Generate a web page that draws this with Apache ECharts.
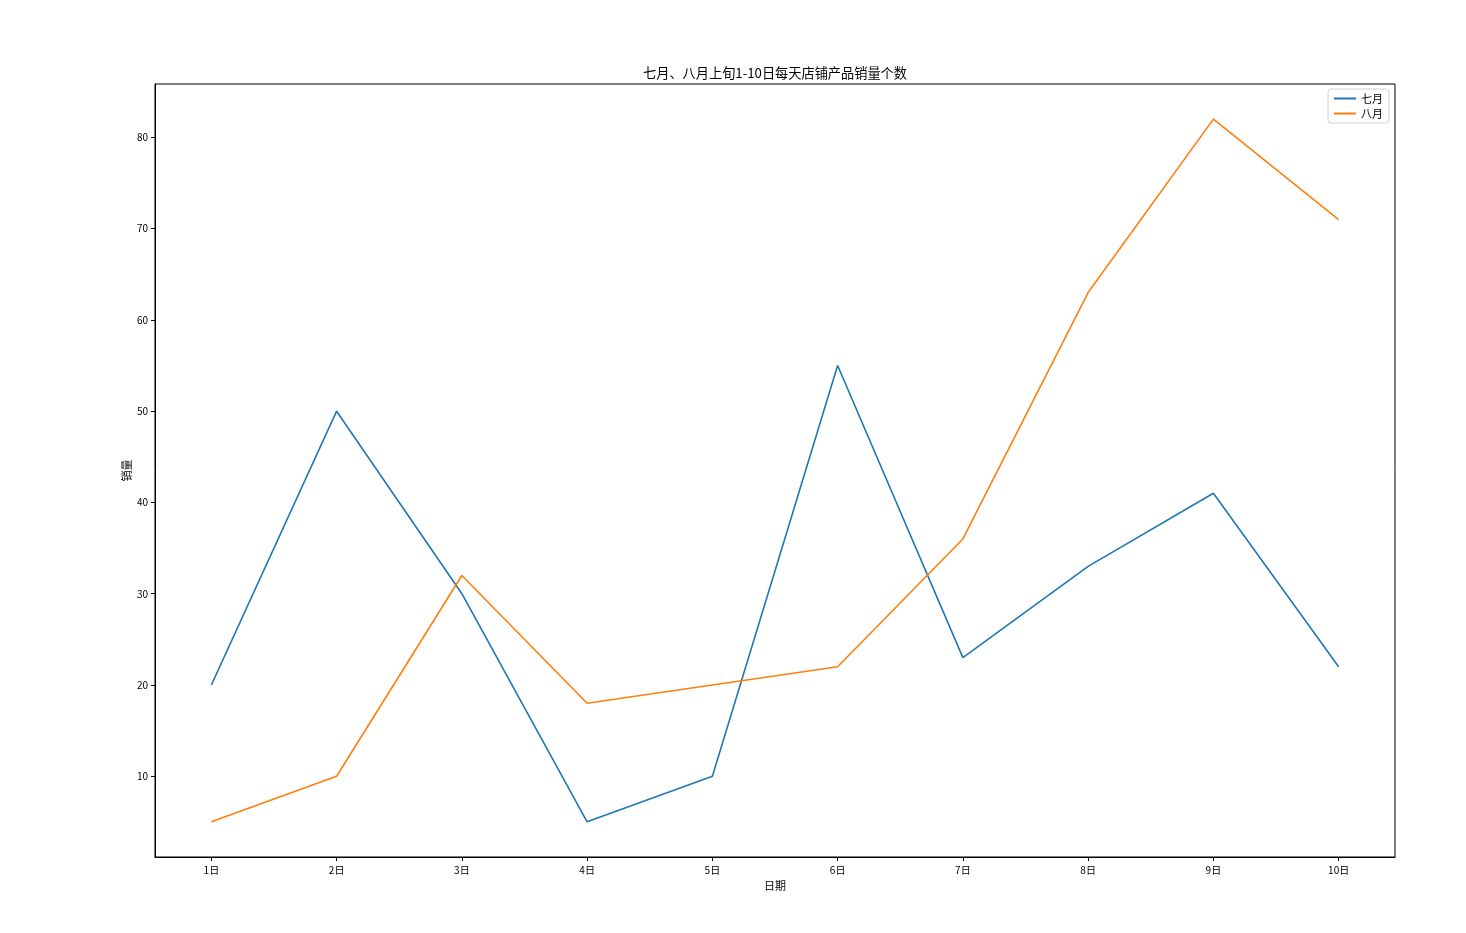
<!DOCTYPE html>
<html>
<head>
<meta charset="utf-8">
<script src="https://cdn.jsdelivr.net/npm/echarts@6/dist/echarts.min.js"></script>
<style>
  html, body { margin: 0; padding: 0; background: #fff; }
  #chart { width: 1466px; height: 933px; }
</style>
</head>
<body>
<div id="chart"></div>
<script>
// 日期 1..10
const days = [1, 2, 3, 4, 5, 6, 7, 8, 9, 10];
const july = [20, 50, 30, 5, 10, 55, 23, 33, 41, 22];
const august = [5, 10, 32, 18, 20, 22, 36, 63, 82, 71];
const yTicks = [10, 20, 30, 40, 50, 60, 70, 80];

const font = '"Noto Sans CJK SC", "DejaVu Sans", sans-serif';

function pairs(vals) {
  return days.map((d, i) => [d, vals[i]]);
}

const chart = echarts.init(document.getElementById('chart'));
chart.setOption({
  animation: false,
  backgroundColor: '#fff',
  title: {
    text: '七月、八月上旬1-10日每天店铺产品销量个数',
    left: 770,
    textAlign: 'center',
    top: 61,
    textStyle: { fontFamily: font, fontSize: 13.2, fontWeight: 'normal', color: '#000' }
  },
  legend: {
    orient: 'vertical',
    right: 77,
    top: 89,
    padding: [4, 6, 4, 6],
    borderColor: '#d0d0d0',
    borderWidth: 1,
    borderRadius: 3,
    itemWidth: 22,
    itemHeight: 2,
    itemGap: 4,
    icon: 'rect',
    textStyle: { fontFamily: font, fontSize: 11, color: '#000' },
    data: ['七月', '八月']
  },
  grid: {
    left: 155, right: 71, top: 84, bottom: 76,
    show: true, borderColor: '#000', borderWidth: 1, backgroundColor: 'transparent'
  },
  xAxis: {
    type: 'value',
    min: 0.55,
    max: 10.45,
    name: '日期',
    nameLocation: 'middle',
    nameGap: 22,
    nameTextStyle: { fontFamily: font, fontSize: 11, color: '#000' },
    axisLine: { show: true, lineStyle: { color: '#000' } },
    axisTick: { show: true, length: 4, lineStyle: { color: '#000' }, customValues: days },
    axisLabel: {
      fontFamily: font, fontSize: 10, color: '#000', margin: 8,
      customValues: days,
      formatter: v => v + '日'
    },
    splitLine: { show: false }
  },
  yAxis: {
    type: 'value',
    min: 1.15,
    max: 85.85,
    name: '销量',
    nameLocation: 'middle',
    nameGap: 23,
    nameRotate: 90,
    nameMoveOverlap: false,
    nameTextStyle: { fontFamily: font, fontSize: 11, color: '#000' },
    axisLine: { show: true, lineStyle: { color: '#000' } },
    axisTick: { show: true, length: 4, lineStyle: { color: '#000' }, customValues: yTicks },
    axisLabel: { fontFamily: font, fontSize: 10, color: '#000', margin: 7, customValues: yTicks },
    splitLine: { show: false }
  },
  series: [
    {
      name: '七月',
      type: 'line',
      data: pairs(july),
      showSymbol: false,
      color: '#1f77b4',
      lineStyle: { width: 1.6, color: '#1f77b4' }
    },
    {
      name: '八月',
      type: 'line',
      data: pairs(august),
      showSymbol: false,
      color: '#ff7f0e',
      lineStyle: { width: 1.6, color: '#ff7f0e' }
    }
  ]
});
</script>
</body>
</html>
